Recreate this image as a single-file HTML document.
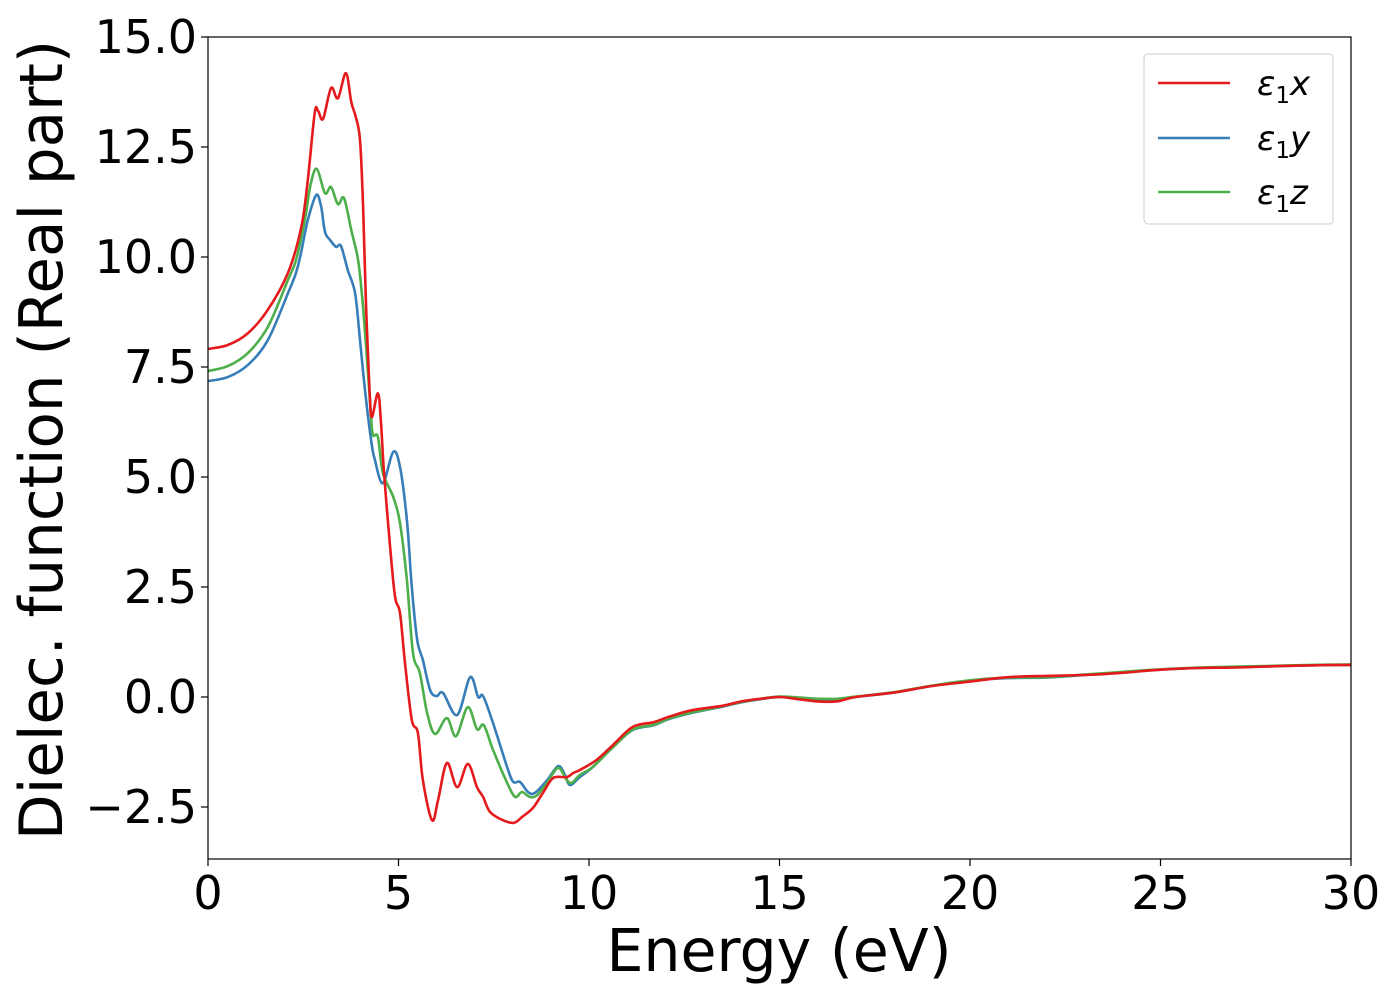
<!DOCTYPE html>
<html><head><meta charset="utf-8"><style>
html,body{margin:0;padding:0;background:#fff;}
svg{display:block;font-family:"DejaVu Sans","Liberation Sans",sans-serif;}
</style></head><body>
<svg id="chart" width="1400" height="1000" viewBox="0 0 1400 1000" xmlns="http://www.w3.org/2000/svg">
<g id="series"></g>
<rect x="208" y="37" width="1143" height="822" fill="none" stroke="#000" stroke-width="1.2"/>
<g id="xticks"></g>
<g id="yticks"></g>
<text x="779" y="971" font-size="58.5" text-anchor="middle">Energy (eV)</text>
<text transform="translate(62,440) rotate(-90)" font-size="59.5" text-anchor="middle">Dielec. function (Real part)</text>
<g>
<rect x="1144" y="54" width="189" height="170" rx="4" fill="#fff" stroke="#ccc" stroke-width="1"/>
<line x1="1158" y1="83" x2="1230" y2="83" stroke="#e41a1c" stroke-width="2.6"/>
<text x="1257" y="95" font-size="34" font-style="italic">ε<tspan font-size="23" dy="8" font-style="normal">1</tspan><tspan dy="-8">x</tspan></text>
<line x1="1158" y1="138" x2="1230" y2="138" stroke="#377eb8" stroke-width="2.6"/>
<text x="1257" y="150" font-size="34" font-style="italic">ε<tspan font-size="23" dy="8" font-style="normal">1</tspan><tspan dy="-8">y</tspan></text>
<line x1="1158" y1="192" x2="1230" y2="192" stroke="#4daf4a" stroke-width="2.6"/>
<text x="1257" y="204" font-size="34" font-style="italic">ε<tspan font-size="23" dy="8" font-style="normal">1</tspan><tspan dy="-8">z</tspan></text>
</g>
</svg>
<script>
const xTicks=[0,5,10,15,20,25,30];
const yTicks=[-2.5,0,2.5,5,7.5,10,12.5,15];
const yTickLabels=["\u22122.5","0.0","2.5","5.0","7.5","10.0","12.5","15.0"];
const tailE=[11.15,11.7,12.1,12.7,13.5,14,14.5,15,15.5,16,16.5,17,18,19,20,21,22,23,24,25,26,27,28,29,30];
const tailRed=[-0.68,-0.57,-0.45,-0.3,-0.2,-0.1,-0.04,0.0,-0.05,-0.1,-0.1,0.0,0.1,0.25,0.35,0.45,0.48,0.5,0.55,0.62,0.66,0.67,0.7,0.72,0.73];
const tailBG=[-0.75,-0.64,-0.5,-0.36,-0.22,-0.12,-0.05,0.0,-0.02,-0.05,-0.05,0.0,0.1,0.25,0.37,0.43,0.44,0.5,0.56,0.62,0.66,0.68,0.7,0.72,0.73];
const redE=[0,0.52,1.05,1.57,2.1,2.45,2.62,2.8,2.89,3.02,3.23,3.41,3.62,3.76,3.88,3.99,4.07,4.15,4.24,4.3,4.46,4.54,4.62,4.78,4.91,5.04,5.17,5.35,5.51,5.64,5.88,6.04,6.27,6.54,6.82,7.06,7.22,7.4,7.74,8.03,8.24,8.53,8.79,9.06,9.42,9.58,9.76,10.2,10.63];
const redV=[7.91,8.0,8.27,8.8,9.64,10.68,11.75,13.27,13.32,13.14,13.84,13.61,14.18,13.52,13.18,12.66,11.14,8.86,6.98,6.36,6.9,6.23,5.1,3.41,2.27,1.91,0.77,-0.52,-0.82,-1.89,-2.8,-2.34,-1.5,-2.05,-1.52,-2.05,-2.27,-2.61,-2.8,-2.86,-2.73,-2.52,-2.18,-1.84,-1.82,-1.73,-1.66,-1.43,-1.09];
const blueE=[0,0.52,1.05,1.57,2.1,2.31,2.44,2.62,2.84,2.97,3.07,3.2,3.36,3.49,3.67,3.86,3.99,4.12,4.28,4.38,4.59,4.86,5.04,5.22,5.35,5.49,5.64,5.83,6.0,6.17,6.54,6.88,7.09,7.22,7.48,7.85,8.01,8.19,8.4,8.58,8.9,9.19,9.37,9.5,9.76,10.1,10.63];
const blueV=[7.18,7.27,7.55,8.11,9.18,9.64,10.09,10.84,11.41,11.14,10.57,10.39,10.23,10.25,9.7,9.18,8.11,6.98,5.84,5.39,4.86,5.57,5.23,4.02,2.5,1.3,0.84,0.16,0.02,0.09,-0.41,0.45,0,0.02,-0.59,-1.59,-1.93,-1.93,-2.16,-2.18,-1.89,-1.57,-1.77,-2.0,-1.82,-1.59,-1.14];
const greenE=[0,0.52,1.05,1.57,2.1,2.31,2.54,2.7,2.86,3.07,3.23,3.41,3.57,3.76,3.94,4.07,4.2,4.28,4.33,4.46,4.59,4.86,5.04,5.22,5.38,5.56,5.75,5.96,6.27,6.51,6.82,7.06,7.24,7.48,7.85,8.06,8.24,8.45,8.64,8.9,9.19,9.42,9.55,9.76,10.1,10.63];
const greenV=[7.41,7.52,7.82,8.41,9.48,9.93,10.84,11.68,12.0,11.45,11.59,11.2,11.34,10.61,9.93,8.86,7.36,6.36,5.95,5.91,5.09,4.55,3.95,2.66,1.0,0.55,-0.36,-0.84,-0.48,-0.89,-0.23,-0.73,-0.64,-1.2,-1.95,-2.27,-2.16,-2.27,-2.23,-1.95,-1.61,-1.89,-1.95,-1.77,-1.59,-1.14];

const X0=208,X1=1351,Y0=859,Y1=37,XMIN=0,XMAX=30,YMIN=-3.682,YMAX=15;
const sx=v=>X0+(v-XMIN)/(XMAX-XMIN)*(X1-X0);
const sy=v=>Y0-(v-YMIN)/(YMAX-YMIN)*(Y0-Y1);
const NS="http://www.w3.org/2000/svg";
function mk(tag,attrs,parent){const e=document.createElementNS(NS,tag);for(const k in attrs)e.setAttribute(k,attrs[k]);parent.appendChild(e);return e;}
const xg=document.getElementById('xticks'),yg=document.getElementById('yticks'),sg=document.getElementById('series');
xTicks.forEach(t=>{
  const l=mk('line',{x1:sx(t),x2:sx(t),y1:Y0,y2:Y0+7,stroke:'#000','stroke-width':1.2},xg);
  
  
  const tx=mk('text',{x:sx(t),y:Y0+50,'font-size':46,'text-anchor':'middle'},xg);
  
  
  tx.textContent=String(t);
});
yTicks.forEach((t,i)=>{
  const l=mk('line',{x1:X0-7,x2:X0,y1:sy(t),y2:sy(t),stroke:'#000','stroke-width':1.2},yg);
  
  
  const tx=mk('text',{x:X0-11,y:sy(t)+16,'font-size':46,'text-anchor':'end'},yg);
  
  
  tx.textContent=yTickLabels[i];
});
function pathFor(E,V){
  const p=E.map((e,i)=>[sx(e),sy(V[i])]);
  let d='M'+p[0][0].toFixed(1)+','+p[0][1].toFixed(1);
  for(let i=0;i<p.length-1;i++){
    const a=p[Math.max(i-1,0)],b=p[i],c=p[i+1],n=p[Math.min(i+2,p.length-1)];
    const c1=[b[0]+(c[0]-a[0])/6,b[1]+(c[1]-a[1])/6],c2=[c[0]-(n[0]-b[0])/6,c[1]-(n[1]-b[1])/6];
    d+=' C'+c1[0].toFixed(1)+','+c1[1].toFixed(1)+' '+c2[0].toFixed(1)+','+c2[1].toFixed(1)+' '+c[0].toFixed(1)+','+c[1].toFixed(1);
  }
  return d;
}
const defs=[['line-eps1-y',blueE.concat(tailE),blueV.concat(tailBG),'#377eb8'],
            ['line-eps1-z',greenE.concat(tailE),greenV.concat(tailBG.map(v=>v+0.01)),'#4daf4a'],
            ['line-eps1-x',redE.concat(tailE),redV.concat(tailRed),'#e41a1c']];
defs.forEach(s=>{
  const path=mk('path',{d:pathFor(s[1],s[2]),fill:'none',stroke:s[3],'stroke-width':2.6,'stroke-linejoin':'round'},sg);
  
  
});
</script>
</body></html>
